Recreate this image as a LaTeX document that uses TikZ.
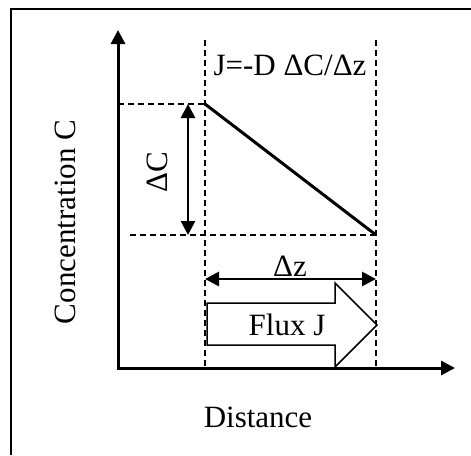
\documentclass[tikz,border=0pt]{standalone}
\usepackage{fontspec}
\setmainfont{Liberation Serif}
\usetikzlibrary{arrows.meta,positioning}

\begin{document}
\begin{tikzpicture}[
        x=1pt, y=-1pt,
        axis/.style={line width=3pt, -{Triangle[length=14pt,width=14pt]}},
        guide/.style={line width=1.5pt, dash pattern=on 6pt off 4pt},
        dimarrow/.style={line width=2.8pt, {Triangle[length=14pt,width=14pt]}-{Triangle[length=14pt,width=14pt]}},
        lbl/.style={font=\fontsize{31}{36}\selectfont, inner sep=0pt}
      ]
      \useasboundingbox (0,0) rectangle (471,455);
      % frame
      \draw[line width=2.2pt] (11,455) -- (11,9) -- (471,9);

      % axes
      \coordinate (origin) at (118,368);
      \coordinate (ytop) at (118,30);
      \coordinate (xend) at (455,368);
      \draw[axis] (origin) -- (ytop);
      \draw[axis] ([xshift=-1.5pt]origin) -- (xend);

      % guide lines
      \coordinate (c1) at (205,104);
      \coordinate (c2) at (376,235);
      \draw[guide] (205,40) -- (205,368);
      \draw[guide] (376,40) -- (376,368);
      \draw[guide] (118,104) -- (c1);
      \draw[guide] (130,235) -- (c2);

      % concentration profile
      \draw[line width=3pt] (c1) -- (c2);

      % delta C and delta z
      \draw[dimarrow] (188,104) -- (188,235);
      \draw[dimarrow] (205,279) -- (376,279);

      % flux arrow
      \draw[line width=1.5pt, fill=white] (207,303) -- (335,303) -- (335,283) -- (377,325)
            -- (335,367) -- (335,345) -- (207,345) -- cycle;

      \node[lbl] (law) at (290,65) {J=-D ΔC/Δz};
      \node[lbl, rotate=90] (dc) at (157,172) {ΔC};
      \node[lbl] (dz) at (290,266) {Δz};
      \node[lbl] (flux) at (287,325) {Flux J};
      \node[lbl] (xlab) at (258,417) {Distance};
      \node[lbl, rotate=90] (ylab) at (65,222) {Concentration C};
    \end{tikzpicture}
\end{document}
